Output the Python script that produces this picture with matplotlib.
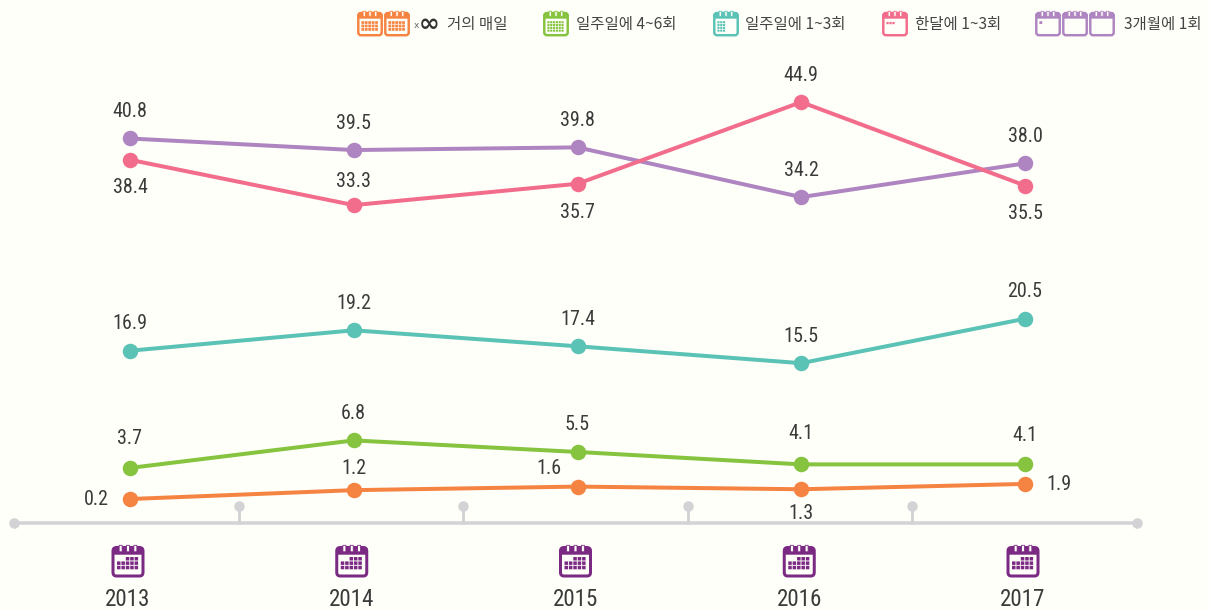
import matplotlib
matplotlib.use("Agg")
import matplotlib.pyplot as plt
from matplotlib.patches import FancyBboxPatch, Rectangle
from matplotlib import font_manager

# data
years = [2013, 2014, 2015, 2016, 2017]
orange = [0.2, 1.2, 1.6, 1.3, 1.9]
green = [3.7, 6.8, 5.5, 4.1, 4.1]
teal = [16.9, 19.2, 17.4, 15.5, 20.5]
pink = [38.4, 33.3, 35.7, 44.9, 35.5]
purple = [40.8, 39.5, 39.8, 34.2, 38.0]
legend_labels = ["거의 매일", "일주일에 4~6회", "일주일에 1~3회", "한달에 1~3회", "3개월에 1회"]

# colours
BG = "#fffffa"
C_ORANGE = "#f58442"
C_GREEN = "#86c440"
C_TEAL = "#5bc2b6"
C_PINK = "#f26d8c"
C_PURPLE = "#ae85c0"
C_ICON = "#7b2a83"
C_AXIS = "#d3d3d5"

W, H = 1209, 610
px = 0.72  # pixels -> points at dpi 100

names = {f.name for f in font_manager.fontManager.ttflist}
num_font = "Roboto"
for cand in ["Roboto Condensed", "Liberation Sans Narrow", "Open Sans Condensed"]:
    if cand in names:
        num_font = cand
        break
kr_font = ["Noto Sans CJK KR", "DejaVu Sans"]

fig = plt.figure(figsize=(W / 100, H / 100), dpi=100, facecolor=BG)

# data axes fills the whole figure, scale
ax = fig.add_axes([0, 0, 1, 1])
x_step = 223.75
y_step = 8.88
y_zero = 500.8
ax.set_xlim(2013 - 130 / x_step, 2013 + (W - 130) / x_step)
ax.set_ylim((y_zero - H) / y_step, y_zero / y_step)
ax.axis("off")

# second axes in pixels, for the icons
pax = fig.add_axes([0, 0, 1, 1])
pax.set_xlim(0, W)
pax.set_ylim(H, 0)
pax.axis("off")
pax.patch.set_alpha(0)


def calendar(cx, top, size, color, cells=None, cell=4.1, start=None, first=12):
    # cells is a list of (row, col) day squares
    s = size / 32
    left = cx - size / 2
    pax.add_patch(FancyBboxPatch((left + 1 * s, top + 2.5 * s), size - 2 * s, size - 3.5 * s,
                                 boxstyle="round,pad=0,rounding_size=%f" % (3.5 * s),
                                 fc=BG, ec=color, lw=2.6 * s * px + 0.3))
    pax.add_patch(FancyBboxPatch((left + 0.5 * s, top + 2.5 * s), size - 1 * s, 7 * s,
                                 boxstyle="round,pad=0,rounding_size=%f" % (2.5 * s),
                                 fc=color, ec=color, lw=0.3))
    for k in (0.27, 0.5, 0.73):
        pax.add_patch(Rectangle((left + k * size - 1.5 * s, top + 0.3 * s), 3 * s, 6.5 * s,
                                fc=BG, ec=color, lw=0.6, snap=False))
    if cells:
        c_w = cell * s
        x0 = left + (start if start is not None else 5) * s
        y0 = top + first * s
        for r, c in cells:
            pax.add_patch(Rectangle((x0 + c * c_w, y0 + r * c_w), c_w - 0.9 * s, c_w - 0.9 * s,
                                    fc=color, ec="none", snap=False))


def grid(rows, cols, skip=()):
    return [(r, c) for r in range(rows) for c in range(cols) if (r, c) not in skip]


# axis line with dots, ticks split the line in five equal parts
y_axis = (y_zero - 523) / y_step
y_dot = (y_zero - 506) / y_step
x_left = 2013 + (14 - 130) / x_step
x_right = 2013 + (1137 - 130) / x_step
ax.plot([x_left, x_right], [y_axis, y_axis], color=C_AXIS, lw=3.5 * px, zorder=1)
ax.plot([x_left, x_right], [y_axis, y_axis], "o", color=C_AXIS, ms=10.5 * px, mew=0, zorder=1)
for k in range(1, 5):
    t = x_left + k * (x_right - x_left) / 5
    ax.plot([t, t], [y_axis, y_dot], color=C_AXIS, lw=3 * px, zorder=1)
    ax.plot([t], [y_dot], "o", color=C_AXIS, ms=10.5 * px, mew=0, zorder=1)

# offsets of the value labels in pixels (dx, dy)
up = (0, 29)
series = [
    (purple, C_PURPLE, [up, up, up, up, up]),
    (pink, C_PINK, [(0, -26), (0, 26), (0, -27), up, (0, -26)]),
    (teal, C_TEAL, [up, up, up, up, up]),
    (green, C_GREEN, [(0, 31), up, up, (0, 33), (0, 31)]),
    (orange, C_ORANGE, [(-34, 2), (0, 24), (-29, 20), (0, -22), (34, 1)]),
]

for vals, col, offs in series:
    ax.plot(years, vals, "-o", color=col, lw=4 * px, ms=15.5 * px, mew=0, zorder=3,
            solid_capstyle="round")
    for yr, v, off in zip(years, vals, offs):
        ax.annotate("%.1f" % v, (yr, v), xytext=off, textcoords="offset pixels",
                    ha="center", va="center_baseline", family=num_font, fontsize=20 * px,
                    color="#3a3a3a", zorder=4)

# year labels and icons
for yr in years:
    cx = ax.transData.transform((yr, 0))[0]
    calendar(cx - 2, 545, 32, C_ICON, grid(3, 5, skip=[(0, 0), (0, 1)]), cell=4.4, start=5)
    ax.annotate(str(yr), (yr, y_axis), xytext=(-2, -74), textcoords="offset pixels",
                ha="center", va="center_baseline", family=num_font, fontsize=23 * px,
                color="#3a3a3a")

# legend
calendar(370, 11, 25, C_ORANGE, grid(3, 5), cell=4.4, start=5, first=13)
calendar(397, 11, 25, C_ORANGE, grid(3, 5), cell=4.4, start=5, first=13)
pax.text(414, 25, "x", fontsize=9 * px, color="#666666", ha="left", va="center")
pax.text(419, 24, "∞", fontsize=25 * px, color="#333333", ha="left", va="center",
         family="DejaVu Sans", fontweight="bold")
calendar(556, 11, 25, C_GREEN, grid(4, 6), cell=3.6, start=5, first=13)
calendar(726, 11, 25, C_TEAL, grid(4, 3), cell=3.6, start=5, first=13)
calendar(895, 11, 25, C_PINK, grid(1, 3), cell=3.8, start=5, first=14)
calendar(1048, 11, 25, C_PURPLE, grid(1, 1), cell=4.5, start=5, first=13)
calendar(1075, 11, 25, C_PURPLE)
calendar(1102, 11, 25, C_PURPLE)

legend_x = [447, 576, 745, 915, 1124]
for lx, lab in zip(legend_x, legend_labels):
    pax.text(lx, 24, lab, family=kr_font, fontsize=15.5 * px, color="#444444",
             ha="left", va="center")

fig.savefig("out.png", dpi=100, facecolor=BG)
